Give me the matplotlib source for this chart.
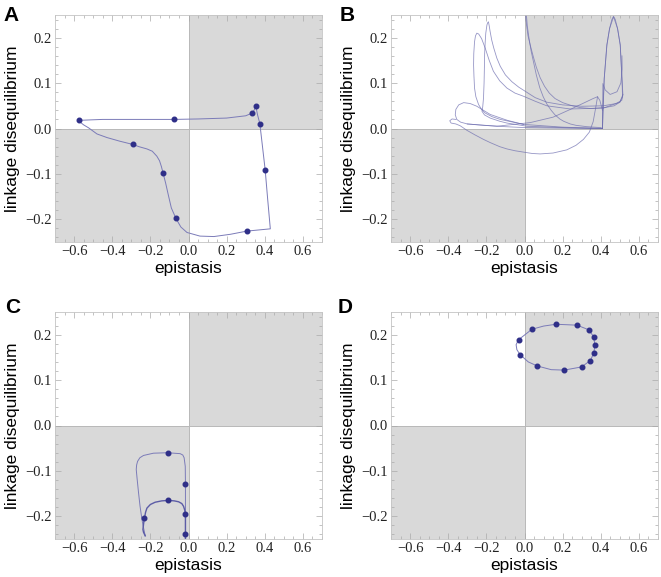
import matplotlib
matplotlib.use("Agg")
import matplotlib.pyplot as plt
from matplotlib.patches import Rectangle
from matplotlib.ticker import FixedLocator, FixedFormatter, MultipleLocator

# ---------------- data ----------------
x_ticks = [-0.6, -0.4, -0.2, 0.0, 0.2, 0.4, 0.6]
x_tick_labels = ["\u22120.6", "\u22120.4", "\u22120.2", "0.0", "0.2", "0.4", "0.6"]
y_ticks = [-0.2, -0.1, 0.0, 0.1, 0.2]
y_tick_labels = ["\u22120.2", "\u22120.1", "0.0", "0.1", "0.2"]
x_label = "epistasis"
y_label = "linkage disequilibrium"
panel_letters = ["A", "B", "C", "D"]

# Panel A: trajectory and sample points
a_line_x = [-0.573, -0.45, -0.3, -0.15, -0.077, 0.05, 0.2, 0.30, 0.334, 0.345, 0.353,
            0.362, 0.374, 0.388, 0.402, 0.415, 0.429, 0.306, 0.22, 0.133, 0.06, -0.008,
            -0.040, -0.066, -0.090, -0.105, -0.120, -0.133, -0.142, -0.152, -0.166, -0.190,
            -0.218, -0.260, -0.293, -0.360, -0.427, -0.480, -0.524, -0.550, -0.565, -0.573]
a_line_y = [0.018, 0.020, 0.020, 0.020, 0.020, 0.021, 0.023, 0.028, 0.034, 0.041, 0.049,
            0.030, 0.011, -0.040, -0.091, -0.155, -0.221, -0.226, -0.233, -0.238, -0.237,
            -0.229, -0.217, -0.198, -0.175, -0.148, -0.120, -0.099, -0.084, -0.071, -0.061,
            -0.050, -0.045, -0.040, -0.035, -0.028, -0.020, -0.012, 0.0015, 0.008, 0.013, 0.018]
a_pts_x = [-0.573, -0.077, 0.334, 0.353, 0.374, 0.402, 0.306, -0.066, -0.133, -0.293]
a_pts_y = [0.018, 0.020, 0.034, 0.049, 0.011, -0.091, -0.226, -0.198, -0.099, -0.035]

# Panel B: trajectory pieces
b1_x = [0.409, 0.411, 0.418, 0.432, 0.446, 0.458, 0.467, 0.476, 0.488, 0.502, 0.511, 0.516,
        0.510, 0.480, 0.414, 0.30, 0.20, 0.117, 0.056, 0.0, -0.03, -0.066, -0.10, -0.127,
        -0.145, -0.161, -0.172, -0.180, -0.185, -0.189, -0.193, -0.197, -0.203, -0.206,
        -0.209, -0.210, -0.212, -0.215, -0.219, -0.223, -0.21, -0.180, -0.13, -0.092,
        0.013, 0.2, 0.409]
b1_y = [0.000, 0.037, 0.110, 0.184, 0.220, 0.240, 0.247, 0.240, 0.220, 0.184, 0.110, 0.074,
        0.062, 0.055, 0.050, 0.049, 0.052, 0.058, 0.068, 0.083, 0.091, 0.103, 0.118, 0.137,
        0.155, 0.177, 0.195, 0.213, 0.226, 0.235, 0.233, 0.228, 0.210, 0.191, 0.165, 0.140,
        0.100, 0.067, 0.048, 0.038, 0.030, 0.023, 0.016, 0.012, 0.005, 0.002, 0.000]
b2_x = [0.409, 0.418, 0.432, 0.446, 0.467, 0.488, 0.502, 0.511, 0.514, 0.500, 0.414, 0.240,
        0.117, 0.056, -0.005, -0.05, -0.092, -0.13, -0.163, -0.185, -0.206, -0.225, -0.240,
        -0.250, -0.257, -0.262, -0.266, -0.267, -0.265, -0.262, -0.255, -0.241, -0.225,
        -0.206, -0.170, -0.127, -0.060, -0.005, 0.2, 0.409]
b2_y = [0.000, 0.110, 0.184, 0.220, 0.246, 0.220, 0.184, 0.110, 0.070, 0.058, 0.045, 0.043,
        0.050, 0.060, 0.071, 0.078, 0.089, 0.105, 0.126, 0.150, 0.177, 0.198, 0.208, 0.210,
        0.204, 0.191, 0.165, 0.140, 0.115, 0.089, 0.070, 0.053, 0.042, 0.034, 0.026, 0.020,
        0.014, 0.009, 0.003, 0.000]
b3_x = [-0.005, -0.09, -0.18, -0.25, -0.285, -0.319, -0.345, -0.360, -0.363, -0.355, -0.335,
        -0.300, -0.215, -0.10, 0.0, 0.2, 0.409]
b3_y = [0.009, 0.018, 0.031, 0.049, 0.055, 0.057, 0.052, 0.042, 0.030, 0.020, 0.014, 0.010,
        0.007, 0.004, 0.002, 0.001, 0.000]
b4_x = [-0.36, -0.38, -0.392, -0.385, -0.36, -0.337, -0.302, -0.26, -0.215, -0.18, -0.13,
        -0.092, -0.05, -0.005, 0.04, 0.082, 0.15, 0.222, 0.27, 0.309, 0.34, 0.36, 0.373,
        0.383, 0.395, 0.409]
b4_y = [0.020, 0.021, 0.017, 0.012, 0.010, 0.006, -0.004, -0.014, -0.024, -0.031, -0.040,
        -0.045, -0.049, -0.052, -0.055, -0.056, -0.054, -0.047, -0.037, -0.024, -0.008,
        0.015, 0.045, 0.070, 0.062, 0.040]
b5_x = [0.004, 0.010, 0.018, 0.030, 0.045, 0.062, 0.082, 0.105, 0.13, 0.16, 0.20, 0.25,
        0.292, 0.35, 0.42, 0.47, 0.50, 0.516]
b5_y = [0.26, 0.23, 0.205, 0.184, 0.16, 0.135, 0.112, 0.093, 0.078, 0.066, 0.057, 0.050,
        0.046, 0.044, 0.046, 0.050, 0.058, 0.075]
b6_x = [0.008, 0.015, 0.025, 0.035, 0.047, 0.062, 0.08, 0.098, 0.117, 0.14, 0.16, 0.185,
        0.205, 0.24, 0.27, 0.327, 0.40, 0.409]
b6_y = [0.26, 0.225, 0.195, 0.17, 0.147, 0.118, 0.090, 0.070, 0.054, 0.040, 0.030, 0.021,
        0.016, 0.010, 0.007, 0.004, 0.002, 0.0]
b7_x = [-0.30, -0.145, 0.03, 0.15, 0.24, 0.32, 0.36, 0.383]
b7_y = [0.010, 0.005, 0.013, 0.025, 0.042, 0.058, 0.066, 0.070]
b8_x = [0.409, 0.410, 0.411, 0.423, 0.449, 0.485, 0.505, 0.512, 0.511]
b8_y = [0.0, 0.05, 0.099, 0.085, 0.075, 0.081, 0.10, 0.13, 0.16]

# Panel C: trajectory pieces and points
c_outer_x = [-0.227, -0.236, -0.244, -0.254, -0.262, -0.270, -0.274, -0.272, -0.267, -0.255,
             -0.236, -0.184, -0.110, -0.044, -0.030, -0.023, -0.017, -0.016, -0.016, -0.016,
             -0.016]
c_outer_y = [-0.243, -0.225, -0.207, -0.178, -0.148, -0.115, -0.097, -0.087, -0.079, -0.071,
             -0.066, -0.061, -0.060, -0.062, -0.065, -0.071, -0.090, -0.128, -0.195, -0.240,
             -0.26]
c_inner_x = [-0.227, -0.236, -0.239, -0.235, -0.231, -0.225, -0.218, -0.200, -0.175, -0.140,
             -0.106, -0.075, -0.052, -0.035, -0.026, -0.020, -0.016, -0.016, -0.016]
c_inner_y = [-0.243, -0.235, -0.229, -0.215, -0.204, -0.191, -0.182, -0.174, -0.169, -0.166,
             -0.165, -0.166, -0.168, -0.172, -0.178, -0.186, -0.195, -0.240, -0.26]
c_pts_x = [-0.110, -0.016, -0.106, -0.016, -0.231, -0.016]
c_pts_y = [-0.060, -0.128, -0.165, -0.195, -0.204, -0.240]

# Panel D: closed orbit and points
d_line_x = [-0.031, 0.039, 0.10, 0.165, 0.275, 0.336, 0.362, 0.369, 0.364, 0.345, 0.299,
            0.208, 0.14, 0.068, 0.02, -0.023, -0.040, -0.044, -0.031]
d_line_y = [0.189, 0.212, 0.219, 0.223, 0.221, 0.211, 0.196, 0.178, 0.160, 0.143, 0.129,
            0.122, 0.123, 0.131, 0.140, 0.156, 0.167, 0.178, 0.189]
d_pts_x = [-0.031, 0.039, 0.165, 0.275, 0.336, 0.362, 0.369, 0.364, 0.345, 0.299, 0.208,
           0.068, -0.023]
d_pts_y = [0.189, 0.212, 0.223, 0.221, 0.211, 0.196, 0.178, 0.160, 0.143, 0.129, 0.122,
           0.131, 0.156]

# ---------------- styling ----------------
W, H = 661, 577
fig = plt.figure(figsize=(W / 100, H / 100), dpi=100)

LINE_C = "#7b7bb8"
PT_C = "#2f2f88"
SHADE = "#d9d9d9"
SERIF = "Liberation Serif"
SANS = "Liberation Sans"

# axes rects in pixels: left, top, right, bottom
rects = [(55, 15, 322, 242), (391, 15, 658, 242), (55, 312, 322, 539), (391, 312, 658, 539)]
letter_pos = [(3, 21), (340, 21), (5, 313), (338, 313)]

axes = []
for (l, t, r, b) in rects:
    ax = fig.add_axes([l / W, 1 - b / H, (r - l) / W, (b - t) / H])
    xmin, xmax, ymin, ymax = -0.7, 0.7, -0.25, 0.25
    ax.set_xlim(xmin, xmax)
    ax.set_ylim(ymin, ymax)
    ax.add_patch(Rectangle((0, 0), xmax, ymax, facecolor=SHADE, edgecolor="none", zorder=0))
    ax.add_patch(Rectangle((xmin, ymin), -xmin, -ymin, facecolor=SHADE, edgecolor="none", zorder=0))
    ax.axhline(0, color="#b8b8b8", lw=0.7, zorder=0.5)
    ax.axvline(0, color="#b8b8b8", lw=0.7, zorder=0.5)
    ax.xaxis.set_major_locator(FixedLocator(x_ticks))
    ax.xaxis.set_major_formatter(FixedFormatter(x_tick_labels))
    ax.yaxis.set_major_locator(FixedLocator(y_ticks))
    ax.yaxis.set_major_formatter(FixedFormatter(y_tick_labels))
    ax.xaxis.set_minor_locator(MultipleLocator(0.05))
    ax.yaxis.set_minor_locator(MultipleLocator(0.02))
    ax.tick_params(which="both", direction="in", top=True, right=True, color="#aaaaaa",
                   width=0.5)
    ax.tick_params(which="major", length=4)
    ax.tick_params(which="minor", length=2)
    ax.tick_params(axis="x", which="major", pad=2.5, labelsize=10.5, labelcolor="#222222")
    ax.tick_params(axis="y", which="major", pad=2, labelsize=10.5, labelcolor="#222222")
    for lab in ax.get_xticklabels() + ax.get_yticklabels():
        lab.set_fontfamily(SERIF)
    for s in ax.spines.values():
        s.set_color("#c4c4c4")
        s.set_linewidth(0.6)
    ax.set_xlabel(x_label, fontfamily=SANS, fontsize=12.5, labelpad=2)
    ax.set_ylabel(y_label, fontfamily=SANS, fontsize=12.5, labelpad=4)
    axes.append(ax)

for (lx, ly), letter in zip(letter_pos, panel_letters):
    fig.text(lx / W, 1 - ly / H, letter, fontfamily=SANS, fontweight="bold", fontsize=15,
             ha="left", va="baseline")

axA, axB, axC, axD = axes

axA.plot(a_line_x, a_line_y, color=LINE_C, lw=0.7, zorder=2)
axA.plot(a_pts_x, a_pts_y, "o", color=PT_C, ms=3.3, zorder=3)

for bx, by in [(b1_x, b1_y), (b2_x, b2_y), (b3_x, b3_y), (b4_x, b4_y), (b5_x, b5_y),
               (b6_x, b6_y), (b7_x, b7_y), (b8_x, b8_y)]:
    axB.plot(bx, by, color="#6a6aae", lw=0.6, alpha=0.7, zorder=2)

axC.plot(c_outer_x, c_outer_y, color=LINE_C, lw=0.7, zorder=2)
axC.plot(c_inner_x, c_inner_y, color="#5c5ca6", lw=1.0, zorder=2)
axC.plot(c_pts_x, c_pts_y, "o", color=PT_C, ms=3.3, zorder=3)

axD.plot(d_line_x, d_line_y, color=LINE_C, lw=0.7, zorder=2)
axD.plot(d_pts_x, d_pts_y, "o", color=PT_C, ms=3.3, zorder=3)

fig.savefig("out.png", dpi=100)
